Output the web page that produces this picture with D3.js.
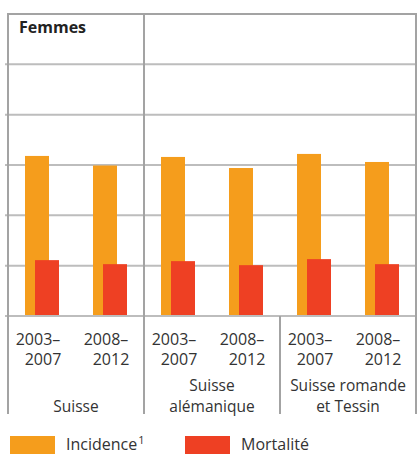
<!DOCTYPE html>
<html>
<head>
<meta charset="utf-8">
<script src="https://cdn.jsdelivr.net/npm/d3@7"></script>
<style>
body{
margin:0;
background:white;
font-family:"Open Sans",sans-serif;
}
</style>
</head>
<body>
<div id="chart"></div>
<script>
// data (per 100 000, gridline every 10)
var regions = ["Suisse","Suisse alémanique","Suisse romande et Tessin"]
var regionLines = [["","Suisse"],["Suisse","alémanique"],["Suisse romande","et Tessin"]]
var periods = ["2003–2007","2008–2012"]
var periodLines = [["2003–","2007"],["2008–","2012"]]
var incidence = [[31.8,29.9],[31.6,29.4],[32.2,30.6]]
var mortalite = [[11.1,10.3],[10.9,10.1],[11.3,10.3]]
var yTicks = [0,10,20,30,40,50,60]

var W = 418, H = 454
// note: "top" is taken by window.top, so plotTop
var plotLeft = 8, plotRight = 416, plotTop = 14, base = 316, plotBottom = 414
var orange = "#f59d1c", red = "#ee4023"
var gridColor = "#bdbdbd", frameColor = "#a3a3a3", textColor = "#333"

var svg = d3.select("#chart").append("svg")
.attr("width",W).attr("height",H)

var y = d3.scaleLinear().domain([0,60]).range([base,plotTop])
var x0 = d3.scaleBand().domain(regions).range([plotLeft,plotRight])
var x1 = d3.scaleBand().domain(periods).range([0,x0.bandwidth()])

// gridlines + little ticks on the left
svg.selectAll(".grid")
.data(yTicks.slice(1,-1))
.enter().append("line")
.attr("x1",plotLeft-3).attr("x2",plotRight)
.attr("y1",function(d){return y(d)}).attr("y2",function(d){return y(d)})
.attr("stroke",gridColor).attr("stroke-width",2)

// bars
var barW = 24
regions.forEach(function(r,ri){
var g = svg.append("g").attr("transform","translate("+x0(r)+",0)")
periods.forEach(function(p,pi){
var c = x1(p)+x1.bandwidth()/2
g.append("rect")
.attr("x",c-17).attr("width",barW)
.attr("y",y(incidence[ri][pi])).attr("height",base-y(incidence[ri][pi]))
.attr("fill",orange)
g.append("rect")
.attr("x",c-7).attr("width",barW)
.attr("y",y(mortalite[ri][pi])).attr("height",base-y(mortalite[ri][pi]))
.attr("fill",red)
// period labels
periodLines[pi].forEach(function(t,li){
g.append("text")
.attr("x",c+(li==0?-4:1)).attr("y",345+li*20)
.attr("text-anchor","middle")
.attr("font-size",16).attr("fill",textColor)
.text(t)
})
})
// region labels
regionLines[ri].forEach(function(t,li){
g.append("text")
.attr("x",x0.bandwidth()/2).attr("y",391+li*21)
.attr("text-anchor","middle")
.attr("font-size",15.5).attr("fill",textColor)
.text(t)
})
})

// baseline and frame
svg.append("line").attr("x1",plotLeft-3).attr("x2",plotRight).attr("y1",base).attr("y2",base)
.attr("stroke",gridColor).attr("stroke-width",2)
function frame(x1_,y1_,x2_,y2_){
svg.append("line").attr("x1",x1_).attr("y1",y1_).attr("x2",x2_).attr("y2",y2_)
.attr("stroke",frameColor).attr("stroke-width",2)
}
frame(plotLeft-1,plotTop,plotRight+1,plotTop)
frame(plotLeft,plotTop,plotLeft,plotBottom)
frame(plotRight,plotTop,plotRight,plotBottom)
frame(x0(regions[1]),plotTop,x0(regions[1]),plotBottom)
frame(x0(regions[2]),base,x0(regions[2]),plotBottom)

svg.append("text")
.attr("x",19).attr("y",33)
.attr("font-size",16).attr("font-weight","bold").attr("fill","#222")
.text("Femmes")

// legend
var legend = [["Incidence","1",orange,10],["Mortalité","",red,185]]
legend.forEach(function(l){
svg.append("rect").attr("x",l[3]).attr("y",436).attr("width",45).attr("height",18).attr("fill",l[2])
var t = svg.append("text").attr("x",l[3]+56).attr("y",450)
.attr("font-size",16).attr("fill",textColor).text(l[0])
if(l[1]) t.append("tspan").attr("font-size",11).attr("dy",-6).attr("dx",1).text(l[1])
})
</script>
</body>
</html>
